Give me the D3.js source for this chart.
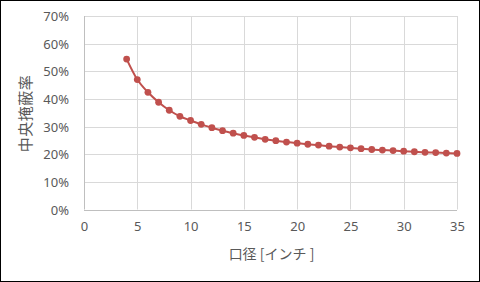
<!DOCTYPE html>
<html lang="ja">
<head>
<meta charset="UTF-8">
<script src="https://cdn.jsdelivr.net/npm/d3@7/dist/d3.min.js"></script>
<style>
    * { margin: 0; padding: 0; }
    body { background: #fff; }
    svg { display: block; font-family: "Noto Sans CJK JP", "Noto Sans", sans-serif; }
</style>
</head>
<body>
<div id="chart"></div>
<script>
    // 口径 [インチ] と 中央掩蔽率
    var apertures = [4, 5, 6, 7, 8, 9, 10, 11, 12, 13, 14, 15, 16, 17, 18, 19,
                     20, 21, 22, 23, 24, 25, 26, 27, 28, 29, 30, 31, 32, 33, 34, 35];
    var ratios = [0.544, 0.470, 0.424, 0.388, 0.359, 0.337, 0.322, 0.308, 0.296, 0.285,
                  0.276, 0.268, 0.261, 0.254, 0.249, 0.244, 0.240, 0.236, 0.233, 0.229,
                  0.226, 0.223, 0.220, 0.217, 0.215, 0.213, 0.211, 0.209, 0.207, 0.206,
                  0.204, 0.203];
    var xTicks = [0, 5, 10, 15, 20, 25, 30, 35];
    var yTicks = [0, 0.1, 0.2, 0.3, 0.4, 0.5, 0.6, 0.7];

    var w = 480, h = 282;
    // "top" は window.top と衝突するので別名
    var plotL = 84, plotR = 457, plotT = 16, plotB = 209.5;
    var red = "#c0504d";

    var svg = d3.select("#chart").append("svg")
        .attr("width", w)
        .attr("height", h);

    // 外枠
    svg.append("rect")
        .attr("x", 0.5).attr("y", 0.5)
        .attr("width", w - 1).attr("height", h - 1)
        .attr("fill", "#fff")
        .attr("stroke", "#000");

    var x = d3.scaleLinear().domain([0, 35]).range([plotL, plotR]);
    var y = d3.scaleLinear().domain([0, 0.7]).range([plotB, plotT]);

    // grid
    svg.append("g").selectAll("line")
        .data(yTicks).enter().append("line")
        .attr("x1", plotL).attr("x2", plotR)
        .attr("y1", function(d) { return Math.round(y(d)) + 0.5; })
        .attr("y2", function(d) { return Math.round(y(d)) + 0.5; })
        .attr("stroke", function(d) { return d === 0 ? "#bfbfbf" : "#d9d9d9"; });

    svg.append("g").selectAll("line")
        .data(xTicks).enter().append("line")
        .attr("y1", plotT).attr("y2", plotB)
        .attr("x1", function(d) { return Math.round(x(d)) + 0.5; })
        .attr("x2", function(d) { return Math.round(x(d)) + 0.5; })
        .attr("stroke", function(d) { return d === 0 ? "#bfbfbf" : "#d9d9d9"; });

    // axes (labels only)
    var yAxis = d3.axisLeft(y).tickValues(yTicks).tickSize(0).tickPadding(0)
        .tickFormat(d3.format(".0%"));
    var xAxis = d3.axisBottom(x).tickValues(xTicks).tickSize(0).tickPadding(0);

    var gy = svg.append("g")
        .attr("transform", "translate(" + 69 + ",0)")
        .call(yAxis);
    var gx = svg.append("g")
        .attr("transform", "translate(0," + 222 + ")")
        .call(xAxis);
    [gx, gy].forEach(function(g) {
        g.select(".domain").remove();
        g.selectAll("text")
            .attr("fill", "#595959")
            .attr("font-size", "13px")
            .attr("font-family", "\"Noto Sans\", \"Noto Sans CJK JP\", sans-serif");
    });
    gy.selectAll("text").attr("dy", "0.35em");
    gx.selectAll("text").attr("dy", "0.72em");

    // series
    var data = apertures.map(function(a, i) { return { a: a, r: ratios[i] }; });

    var line = d3.line()
        .x(function(d) { return x(d.a); })
        .y(function(d) { return y(d.r); })
        .curve(d3.curveMonotoneX);

    svg.append("path")
        .datum(data)
        .attr("d", line)
        .attr("fill", "none")
        .attr("stroke", red)
        .attr("stroke-width", 2);

    svg.append("g").selectAll("circle")
        .data(data).enter().append("circle")
        .attr("cx", function(d) { return x(d.a); })
        .attr("cy", function(d) { return y(d.r); })
        .attr("r", 3.4)
        .attr("fill", red);

    // axis titles
    svg.append("text")
        .attr("x", (plotL + plotR) / 2 + 1)
        .attr("y", 254)
        .attr("dy", "0.35em")
        .attr("text-anchor", "middle")
        .attr("font-size", "14px")
        .attr("fill", "#595959")
        .text("口径 [インチ ]");

    svg.append("text")
        .attr("transform", "translate(26," + 113.5 + ") rotate(-90)")
        .attr("dy", "0.35em")
        .attr("text-anchor", "middle")
        .attr("font-size", "15px")
        .attr("letter-spacing", "0.5px")
        .attr("fill", "#595959")
        .text("中央掩蔽率");
</script>
</body>
</html>
